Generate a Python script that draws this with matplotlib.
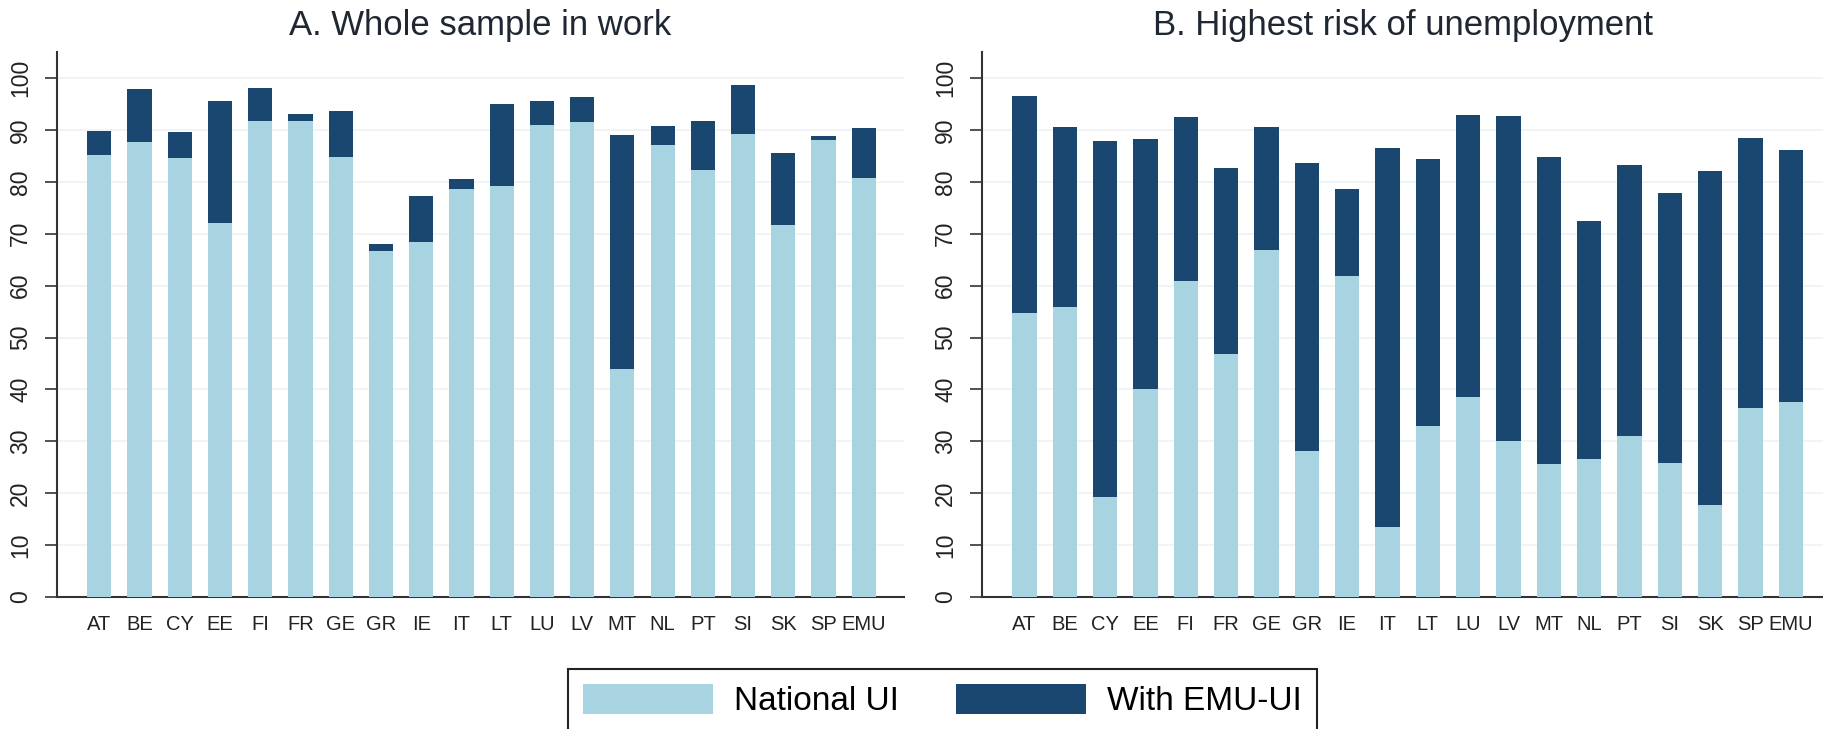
import matplotlib
matplotlib.use('Agg')
import matplotlib.pyplot as plt
import numpy as np

# country codes, same order in both panels
countries = ['AT', 'BE', 'CY', 'EE', 'FI', 'FR', 'GE', 'GR', 'IE', 'IT',
             'LT', 'LU', 'LV', 'MT', 'NL', 'PT', 'SI', 'SK', 'SP', 'EMU']

# panel A: whole sample in work
a_national = [85.1, 87.7, 84.6, 72.1, 91.7, 91.8, 84.8, 66.6, 68.5, 78.7,
              79.2, 91.0, 91.6, 44.0, 87.1, 82.3, 89.2, 71.6, 88.1, 80.7]
a_with_emu = [89.7, 97.9, 89.6, 95.6, 98.1, 93.0, 93.7, 68.0, 77.3, 80.5,
              95.0, 95.5, 96.3, 89.0, 90.8, 91.7, 98.6, 85.5, 88.8, 90.3]

# panel B: highest risk of unemployment
b_national = [54.8, 55.9, 19.2, 40.0, 60.9, 46.8, 66.9, 28.1, 61.9, 13.5,
              32.9, 38.6, 30.1, 25.6, 26.6, 31.0, 25.9, 17.7, 36.4, 37.5]
b_with_emu = [96.6, 90.6, 87.8, 88.3, 92.5, 82.6, 90.5, 83.7, 78.6, 86.5,
              84.3, 92.8, 92.7, 84.8, 72.5, 83.3, 77.9, 82.1, 88.4, 86.2]

titles = ['A. Whole sample in work', 'B. Highest risk of unemployment']
labels = ['National UI', 'With EMU-UI']

light = '#a8d4e2'
dark = '#1a476f'

plt.rcParams['font.family'] = ['Liberation Sans', 'DejaVu Sans']

fig = plt.figure(figsize = (18.23, 7.29), dpi = 100)
ax_a = fig.add_axes([0.0313, 0.181, 0.4646, 0.7476])
ax_b = fig.add_axes([0.5387, 0.181, 0.4613, 0.7476])

x = np.arange(len(countries))

def panel(ax, national, with_emu, title, xmax) :
	# dark bar is the total, light bar drawn on top of it
	ax.bar(x, with_emu, width = 0.6, color = dark, label = labels[1], zorder = 2)
	ax.bar(x, national, width = 0.6, color = light, label = labels[0], zorder = 3)
	ax.set_xlim(-1.05, xmax)
	ax.set_ylim(0, 105)
	ax.set_yticks(range(0, 101, 10))
	ax.set_xticks(x)
	ax.set_xticklabels(countries, fontsize = 14.5, color = '#222222')
	ax.tick_params(axis = 'x', length = 0, pad = 13)
	ax.tick_params(axis = 'y', length = 9, width = 1.2, color = '#333333', pad = 9,
	               labelsize = 16.5, labelcolor = '#222222')
	for t in ax.get_yticklabels() :
		t.set_rotation(90)
		t.set_va('center')
	ax.grid(axis = 'y', color = '#edf2f4', linewidth = 1.2, zorder = 0)
	ax.set_axisbelow(True)
	for s in ['top', 'right'] :
		ax.spines[s].set_visible(False)
	for s in ['left', 'bottom'] :
		ax.spines[s].set_color('#333333')
		ax.spines[s].set_linewidth(1.5)
	ax.set_title(title, fontsize = 25, color = '#1f2733', pad = 12)

panel(ax_a, a_national, a_with_emu, titles[0], 20.0)
panel(ax_b, b_national, b_with_emu, titles[1], 19.8)

handles, _ = ax_a.get_legend_handles_labels()
leg = fig.legend([handles[1], handles[0]], labels, loc = 'upper center',
                 bbox_to_anchor = (0.517, 0.0823), ncol = 2, frameon = True,
                 fancybox = False, edgecolor = '#222222', framealpha = 1,
                 prop = {'size' : 24},
                 handlelength = 3.9, handleheight = 1.0, handletextpad = 0.63,
                 columnspacing = 1.7, borderpad = 0.45, borderaxespad = 0)
leg.get_frame().set_linewidth(1.5)

fig.savefig('out.png', dpi = 100)
